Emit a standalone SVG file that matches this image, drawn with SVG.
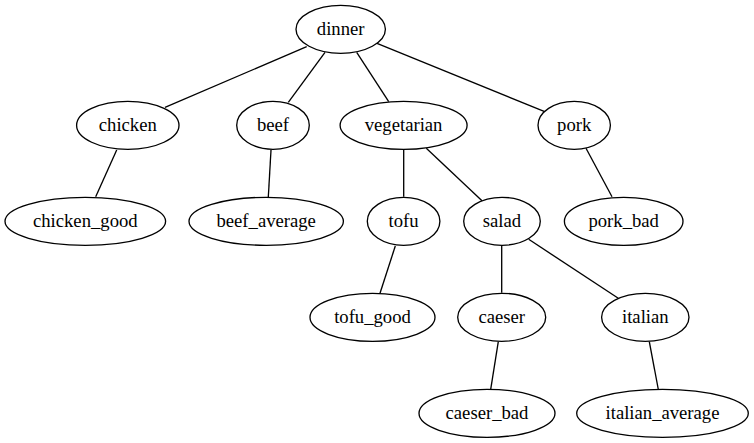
<svg xmlns="http://www.w3.org/2000/svg" width="754" height="443" viewBox="0 0 754 443">
<style>
.n ellipse{fill:none;stroke:#000;stroke-width:1.33}
.n text{font-size:18.67px;text-anchor:middle;fill:#000}
#edges line{stroke:#000;stroke-width:1.33}
</style>
<rect width="754" height="443" fill="#fff"/>
<g id="edges">
<line x1="306.7" y1="46.7" x2="165" y2="107.3"/>
<line x1="325" y1="52.3" x2="288.3" y2="102.3"/>
<line x1="356.7" y1="52.3" x2="388.7" y2="101.7"/>
<line x1="377" y1="43.3" x2="544.7" y2="111.7"/>
<line x1="116.7" y1="150" x2="95.7" y2="196.7"/>
<line x1="271" y1="150" x2="268.3" y2="197.3"/>
<line x1="403.7" y1="149.3" x2="403.7" y2="196.7"/>
<line x1="426.3" y1="148.3" x2="482" y2="200.7"/>
<line x1="586" y1="148.3" x2="612" y2="196.7"/>
<line x1="395.3" y1="246" x2="380" y2="293.3"/>
<line x1="501.7" y1="245" x2="501.7" y2="292.7"/>
<line x1="528.7" y1="239.3" x2="618.3" y2="298.3"/>
<line x1="498.3" y1="341.7" x2="490.7" y2="389.3"/>
<line x1="649.3" y1="341.7" x2="658.3" y2="389.3"/>
</g>
<g id="dinner" class="n"><ellipse cx="340.7" cy="29.3" rx="44.7" ry="24"/><text x="340.7" y="35.3" font-family="Liberation Serif">dinner</text></g>
<g id="chicken" class="n"><ellipse cx="127.8" cy="125.3" rx="51.2" ry="24"/><text x="127.8" y="131.3" font-family="Liberation Serif">chicken</text></g>
<g id="beef" class="n"><ellipse cx="273" cy="125.3" rx="36.3" ry="24"/><text x="273" y="131.3" font-family="Liberation Serif">beef</text></g>
<g id="vegetarian" class="n"><ellipse cx="403.6" cy="125.3" rx="63.5" ry="24"/><text x="403.6" y="131.3" font-family="Liberation Serif">vegetarian</text></g>
<g id="pork" class="n"><ellipse cx="574.2" cy="125.3" rx="36.2" ry="24"/><text x="574.2" y="131.3" font-family="Liberation Serif">pork</text></g>
<g id="chicken_good" class="n"><ellipse cx="85.3" cy="221.3" rx="80.3" ry="24"/><text x="85.3" y="227.3" font-family="Liberation Serif">chicken_good</text></g>
<g id="beef_average" class="n"><ellipse cx="266.2" cy="221.3" rx="77.2" ry="24"/><text x="266.2" y="227.3" font-family="Liberation Serif">beef_average</text></g>
<g id="tofu" class="n"><ellipse cx="403.6" cy="221.3" rx="36.3" ry="24"/><text x="403.6" y="227.3" font-family="Liberation Serif">tofu</text></g>
<g id="salad" class="n"><ellipse cx="502" cy="221.3" rx="38.3" ry="24"/><text x="502" y="227.3" font-family="Liberation Serif">salad</text></g>
<g id="pork_bad" class="n"><ellipse cx="623.7" cy="221.3" rx="59.3" ry="24"/><text x="623.7" y="227.3" font-family="Liberation Serif">pork_bad</text></g>
<g id="tofu_good" class="n"><ellipse cx="372.5" cy="317.3" rx="62.5" ry="24"/><text x="372.5" y="323.3" font-family="Liberation Serif">tofu_good</text></g>
<g id="caeser" class="n"><ellipse cx="501.7" cy="317.3" rx="44" ry="24"/><text x="501.7" y="323.3" font-family="Liberation Serif">caeser</text></g>
<g id="italian" class="n"><ellipse cx="645.3" cy="317.3" rx="43.7" ry="24"/><text x="645.3" y="323.3" font-family="Liberation Serif">italian</text></g>
<g id="caeser_bad" class="n"><ellipse cx="487" cy="413.3" rx="68" ry="24"/><text x="487" y="419.3" font-family="Liberation Serif">caeser_bad</text></g>
<g id="italian_average" class="n"><ellipse cx="662.5" cy="413.3" rx="85.8" ry="24"/><text x="662.5" y="419.3" font-family="Liberation Serif">italian_average</text></g>
</svg>
